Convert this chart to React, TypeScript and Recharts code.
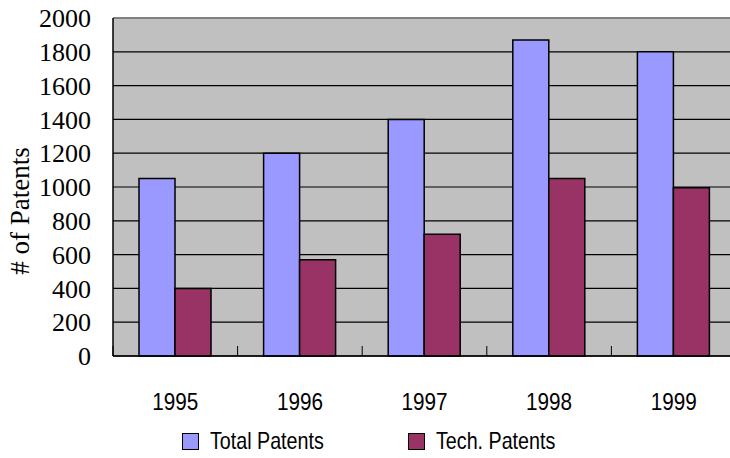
import React from "react";
import { Bar, BarChart, CartesianGrid, Label, Legend, XAxis, YAxis } from "recharts";

const years = ["1995", "1996", "1997", "1998", "1999"];
const totalPatents = [1050, 1200, 1400, 1870, 1800];
const techPatents = [400, 570, 720, 1050, 995];
const yTicks = [0, 200, 400, 600, 800, 1000, 1200, 1400, 1600, 1800, 2000];

const seriesNames = { total: "Total Patents", tech: "Tech. Patents" };
const seriesColors = { total: "#9999FF", tech: "#993366" };

const data = years.map((year, i) => ({
  year,
  total: totalPatents[i],
  tech: techPatents[i],
}));

const SERIF = "'Liberation Serif', 'Times New Roman', serif";
const SANS = "'Liberation Sans', Arial, sans-serif";

const renderGridLine = (props: any) => {
  const { x1, y1, x2, y2, y } = props;
  const isTop = typeof y === "number" && Math.abs(y1 - y) < 0.5;
  return (
    <line
      key={`h-${y1}`}
      x1={x1}
      y1={y1}
      x2={x2}
      y2={y2}
      stroke={isTop ? "#808080" : "#000"}
      strokeWidth={isTop ? 2 : 1.2}
    />
  );
};

// category labels in the middle, small tick marks on the band edges pointing up
const XTick = (props: any) => {
  const { x, y, payload } = props;
  const half = payload?.offset ?? 0;
  return (
    <g>
      <line x1={x - half} y1={y} x2={x - half} y2={y - 10} stroke="#000" strokeWidth={1} />
      <text
        transform={`translate(${x} ${y + 46}) scale(0.9 1)`}
        textAnchor="middle"
        dominantBaseline="central"
        fontFamily={SANS}
        fontSize={23}
        fill="#000"
      >
        {payload.value}
      </text>
    </g>
  );
};

const YLabel = (props: any) => {
  const vb = props.viewBox || { x: 0, y: 0, width: 0, height: 0 };
  const cx = vb.x + 20;
  const cy = vb.y + vb.height / 2 + 24;
  return (
    <text
      x={cx}
      y={cy}
      transform={`rotate(-90 ${cx} ${cy})`}
      textAnchor="middle"
      dominantBaseline="central"
      fontFamily={SERIF}
      fontSize={27}
      fill="#000"
    >
      # of Patents
    </text>
  );
};

const legendLefts = [0, 226];

const LegendContent = () => (
  <div style={{ position: "relative", height: 24, fontFamily: SANS, color: "#000" }}>
    {(["total", "tech"] as const).map((k, i) => (
      <div key={k} style={{ position: "absolute", left: legendLefts[i], top: 0, height: 24, display: "flex", alignItems: "center" }}>
        <span
          style={{
            display: "inline-block",
            width: 15,
            height: 15,
            background: seriesColors[k],
            border: "1.5px solid #000",
          }}
        />
        <span
          style={{
            marginLeft: 11,
            fontSize: 24,
            lineHeight: "24px",
            whiteSpace: "nowrap",
            display: "inline-block",
            transform: "scaleX(0.82)",
            transformOrigin: "left center",
          }}
        >
          {seriesNames[k]}
        </span>
      </div>
    ))}
  </div>
);

export default function App() {
  return (
    <div
      style={{
        position: "fixed",
        left: 0,
        top: 0,
        width: 730,
        height: 458,
        overflow: "hidden",
        background: "#fff",
      }}
    >
      <BarChart
        width={736}
        height={458}
        data={data}
        margin={{ top: 18, right: 0, left: 0, bottom: 0 }}
        barSize={36}
        barGap={0}
      >
        <CartesianGrid
          vertical={false}
          horizontal={renderGridLine}
          fill="#C0C0C0"
          fillOpacity={1}
        />
        <XAxis
          dataKey="year"
          height={102}
          axisLine={{ stroke: "#000", strokeWidth: 1.5 }}
          tickLine={false}
          tickSize={0}
          tickMargin={0}
          tick={<XTick />}
          interval={0}
        />
        <YAxis
          width={113}
          domain={[0, 2000]}
          ticks={yTicks}
          interval={0}
          axisLine={{ stroke: "#000", strokeWidth: 1.5 }}
          tickLine={false}
          tickSize={0}
          tickMargin={22}
          tick={{ fontFamily: SERIF, fontSize: 26, fill: "#000" }}
        >
          <Label content={<YLabel />} />
        </YAxis>
        <Legend
          verticalAlign="middle"
          align="center"
          wrapperStyle={{ top: 429, left: 182, width: 500 }}
          content={<LegendContent />}
        />
        <Bar
          dataKey="total"
          name={seriesNames.total}
          fill={seriesColors.total}
          stroke="#000"
          strokeWidth={1.5}
          isAnimationActive={false}
        />
        <Bar
          dataKey="tech"
          name={seriesNames.tech}
          fill={seriesColors.tech}
          stroke="#000"
          strokeWidth={1.5}
          isAnimationActive={false}
        />
      </BarChart>
    </div>
  );
}
